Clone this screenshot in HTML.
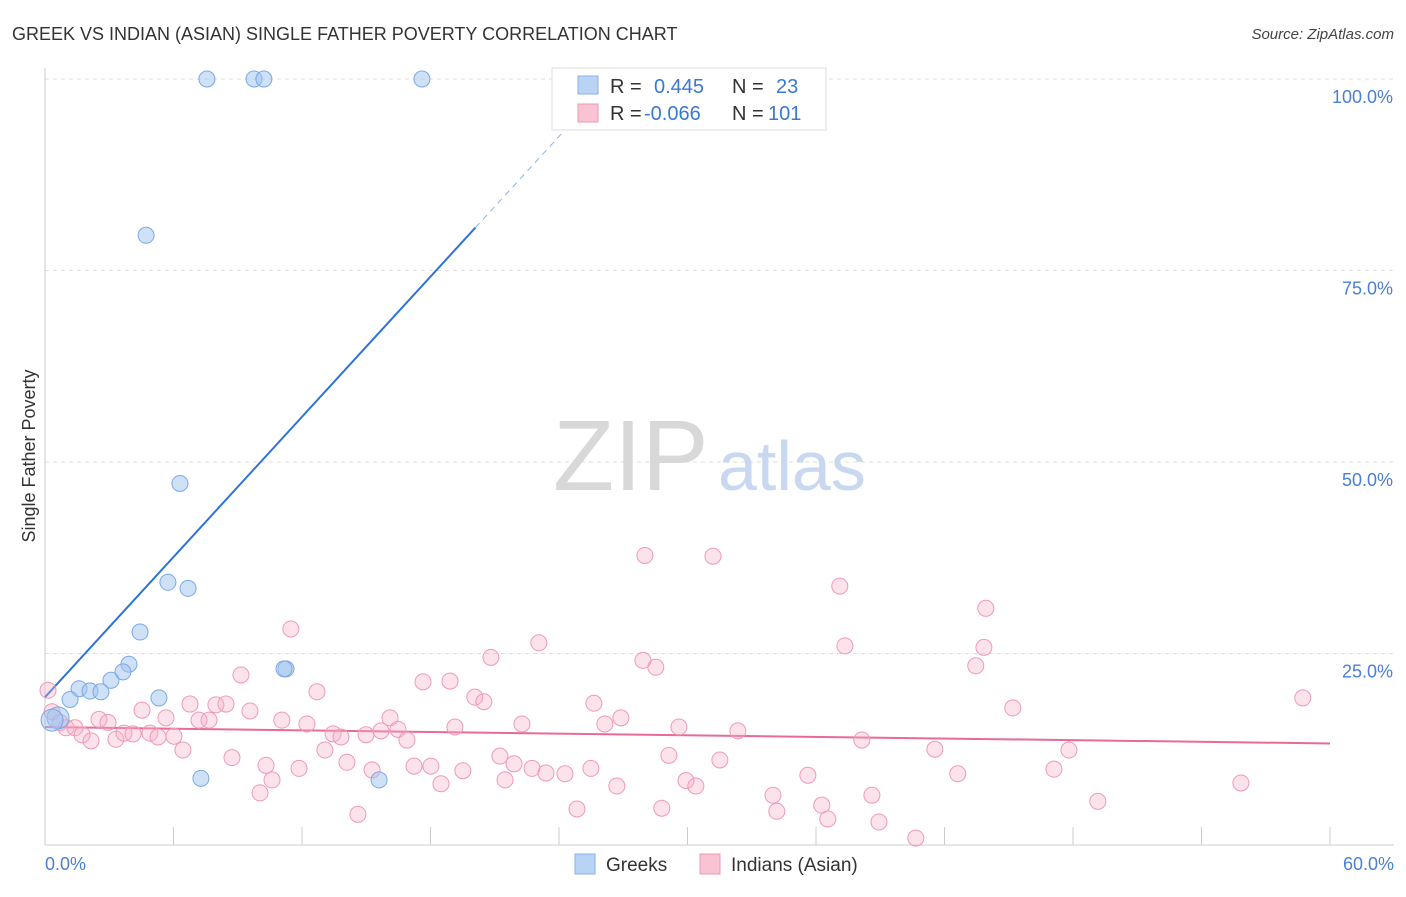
<!DOCTYPE html>
<html><head><meta charset="utf-8"><style>
body{margin:0;background:#fff;font-family:"Liberation Sans",sans-serif;}
svg text{font-family:"Liberation Sans",sans-serif;}
</style></head><body>
<svg id="chart" width="1406" height="892" xmlns="http://www.w3.org/2000/svg">
<text x="12" y="40" font-size="18" fill="#333">GREEK VS INDIAN (ASIAN) SINGLE FATHER POVERTY CORRELATION CHART</text>
<text x="1394" y="39" font-size="15" fill="#444" font-style="italic" text-anchor="end">Source: ZipAtlas.com</text>
<text x="35" y="456" font-size="18" fill="#333" transform="rotate(-90 35 456)" text-anchor="middle">Single Father Poverty</text>
<g id="grid"></g>
<text x="553" y="490" font-size="100" fill="#d8d8d8" font-family="Liberation Serif">ZIP</text>
<text x="718" y="490" font-size="70" fill="#c8d8f0">atlas</text>
<g id="lines"></g>
<g id="pts"></g>
<g>
<rect x="552" y="68" width="274" height="62" fill="#fff" stroke="#ddd"/>
<rect x="578" y="76" width="20" height="18" fill="#b9d3f5" stroke="#8ab2e8"/>
<rect x="578" y="104" width="20" height="18" fill="#f9c3d3" stroke="#ef9ab5"/>
<text x="610" y="93" font-size="20" fill="#333">R =</text><text x="654" y="93" font-size="20" fill="#3a78d4">0.445</text>
<text x="732" y="93" font-size="20" fill="#333">N =</text><text x="776" y="93" font-size="20" fill="#3a78d4">23</text>
<text x="610" y="120" font-size="20" fill="#333">R =</text><text x="644" y="120" font-size="20" fill="#3a78d4">-0.066</text>
<text x="732" y="120" font-size="20" fill="#333">N =</text><text x="768" y="120" font-size="20" fill="#3a78d4">101</text>
</g>
<g>
<rect x="575" y="854" width="20" height="20" fill="#b9d3f5" stroke="#8ab2e8"/>
<text x="606" y="871" font-size="19" fill="#333">Greeks</text>
<rect x="700" y="854" width="20" height="20" fill="#f9c3d3" stroke="#ef9ab5"/>
<text x="731" y="871" font-size="19" fill="#333">Indians (Asian)</text>
</g>
</svg>
<script>
const xTicks=[0,60];
const yTicks=[25,50,75,100];
const greekX=[7.56,9.76,10.22,17.6,4.72,6.3,5.74,6.68,4.44,3.92,3.64,3.08,1.59,2.1,2.61,1.17,5.32,11.25,11.16,7.28,15.6,0.61,0.33];
const greekY=[100,100,100,100,79.6,47.2,34.3,33.5,27.8,23.6,22.6,21.5,20.4,20.1,20.0,19.0,19.2,23.0,23.0,8.7,8.5,16.6,16.3];
const indX=[0.14,0.33,0.70,0.98,1.40,1.73,2.15,2.52,2.94,3.31,3.69,4.11,4.53,4.90,5.28,5.65,6.02,6.44,6.77,7.19,7.66,7.98,8.45,8.73,9.15,9.57,10.04,10.32,10.60,11.06,11.48,11.86,12.23,12.70,13.07,13.45,13.82,14.10,14.61,14.99,15.27,15.69,16.11,16.48,16.90,17.23,17.65,18.02,18.49,18.91,19.14,19.51,20.07,20.49,20.82,21.24,21.48,21.90,22.27,22.74,23.06,23.39,24.28,24.84,25.63,25.49,26.14,26.70,26.89,27.92,28.01,28.52,28.80,29.13,29.60,29.93,30.39,31.19,31.51,32.35,33.99,34.17,35.62,36.27,36.55,37.11,37.35,38.14,38.61,38.94,40.66,41.55,42.62,43.46,43.84,43.93,45.19,47.11,47.81,49.16,55.84,58.73];
const indY=[20.2,17.4,16.0,15.3,15.3,14.4,13.6,16.4,16.0,13.8,14.6,14.5,17.6,14.6,14.1,16.6,14.2,12.4,18.4,16.3,16.3,18.3,18.4,11.4,22.2,17.5,6.8,10.4,8.5,16.3,28.2,10.0,15.8,20.0,12.4,14.5,14.1,10.8,4.0,14.4,9.8,14.9,16.6,15.1,13.7,10.3,21.3,10.3,8.0,21.4,15.4,9.7,19.3,18.7,24.5,11.6,8.5,10.6,15.8,10.0,26.4,9.4,9.3,4.7,18.5,10.0,15.8,7.7,16.6,24.1,37.8,23.2,4.8,11.7,15.4,8.4,7.7,37.7,11.1,14.9,6.5,4.4,9.1,5.2,3.4,33.8,26.0,13.7,6.5,3.0,0.9,12.5,9.3,23.4,25.8,30.9,17.9,9.9,12.4,5.7,8.1,19.2];
const greekTrend=[19.3,3.05];
const indTrend=[15.4,-0.0357];
const NS='http://www.w3.org/2000/svg';
const X=v=>45+v*(1285/60);
const Y=v=>845-v*(766/100);
function mk(tag,attrs,parent){const e=document.createElementNS(NS,tag);for(const k in attrs)e.setAttribute(k,attrs[k]);parent.appendChild(e);return e;}
const grid=document.getElementById('grid');
yTicks.forEach(t=>{
 const l=mk('line',{x1:45,x2:1394,y1:Y(t),y2:Y(t),stroke:'#ddd','stroke-dasharray':'4,4'},grid);
 
 
 const tx=mk('text',{x:1393,y:Y(t)+24,'font-size':18,fill:'#4a7fd4','text-anchor':'end'},grid);
 tx.textContent=t.toFixed(1)+'%';
 
 
});
mk('line',{x1:45,x2:1394,y1:845,y2:845,stroke:'#ccc'},grid);
mk('line',{x1:45,x2:45,y1:68,y2:845,stroke:'#ccc'},grid);
for(let i=1;i<=10;i++){mk('line',{x1:X(i*6),x2:X(i*6),y1:827,y2:845,stroke:'#ccc'},grid);}
xTicks.forEach((t,i)=>{
 const tx=mk('text',{x:i?1394:45,y:870,'font-size':18,fill:'#4a7fd4','text-anchor':i?'end':'start'},grid);
 tx.textContent=t.toFixed(1)+'%';
 
 
});
const lines=document.getElementById('lines');
const gx1=20.1,gx2=25;
const gl=mk('line',{x1:X(0),y1:Y(greekTrend[0]),x2:X(gx1),y2:Y(greekTrend[0]+greekTrend[1]*gx1),stroke:'#2e74d8','stroke-width':2},lines);


const gd=mk('line',{x1:X(gx1),y1:Y(greekTrend[0]+greekTrend[1]*gx1),x2:X(gx2),y2:Y(greekTrend[0]+greekTrend[1]*gx2),stroke:'#8ab2e8','stroke-width':1,'stroke-dasharray':'6,5'},lines);


const il=mk('line',{x1:X(0),y1:Y(indTrend[0]),x2:X(60),y2:Y(indTrend[0]+indTrend[1]*60),stroke:'#e8699a','stroke-width':2},lines);


const pts=document.getElementById('pts');
indX.forEach((v,i)=>{
 const c=mk('circle',{cx:X(v),cy:Y(indY[i]),r:8,fill:'rgba(246,175,198,0.35)',stroke:'#ef9ab5','stroke-width':1},pts);
 
 
});
greekX.forEach((v,i)=>{
 const c=mk('circle',{cx:X(v),cy:Y(greekY[i]),r:i>=21?11:8,fill:'rgba(160,196,240,0.5)',stroke:'#7aa9e6','stroke-width':1},pts);
 
 
});
</script>
</body></html>
